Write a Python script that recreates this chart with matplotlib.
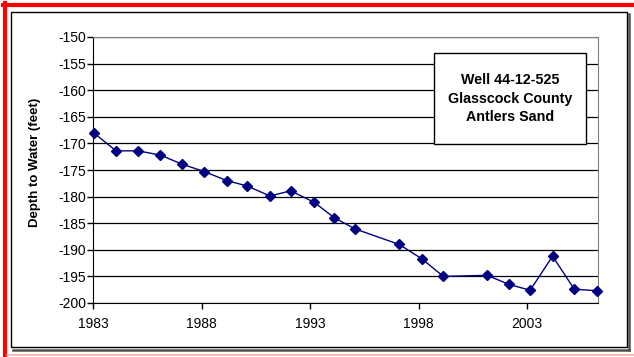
import matplotlib.pyplot as plt
from matplotlib.patches import Rectangle
from matplotlib.lines import Line2D

plt.rcParams['font.family'] = ['Liberation Sans', 'DejaVu Sans']
plt.rcParams['axes.unicode_minus'] = False

# measurement dates (decimal years) and depth to water (ft)
years = [1983.06, 1984.06, 1985.09, 1986.10, 1987.10, 1988.13, 1989.17,
         1990.10, 1991.16, 1992.10, 1993.20, 1994.12, 1995.09, 1997.11,
         1998.15, 1999.14, 2001.16, 2002.16, 2003.14, 2004.17, 2005.17,
         2006.23]
depth = [-168.1, -171.4, -171.4, -172.2, -173.9, -175.3, -177.0,
         -178.0, -179.9, -178.9, -181.1, -184.0, -186.1, -189.0,
         -191.7, -195.0, -194.8, -196.5, -197.6, -191.2, -197.4,
         -197.7]
xticks = [1983, 1988, 1993, 1998, 2003]
yticks = list(range(-200, -149, 5))
title_lines = ['Well 44-12-525', 'Glasscock County', 'Antlers Sand']

W, H = 634, 357
fig = plt.figure(figsize=(W / 100, H / 100), dpi=100)

def px(x, y):
    return x / W, 1 - y / H

# outer frame
fig.add_artist(Line2D([3 / W, 1], [1 - 5 / H] * 2, color='#ff0000', lw=3.0))
fig.add_artist(Line2D([5 / W] * 2, [1 - 3 / H, 1 - 355 / H], color='#ff0000', lw=3.0))
fig.add_artist(Line2D([7 / W, 1], [1 - 355 / H] * 2, color='#ffaaaa', lw=1.2))

# chart frame with shadow
fig.add_artist(Line2D([13 / W, 629 / W], [1 - 349.5 / H] * 2, color='#505050', lw=1.8))
fig.add_artist(Line2D([628.5 / W] * 2, [1 - 14 / H, 1 - 350 / H], color='#505050', lw=1.8))
fig.add_artist(Rectangle(px(11, 347), 616 / W, 335 / H, transform=fig.transFigure,
                         fill=False, edgecolor='black', lw=1.0))

ax = fig.add_axes([93 / W, 1 - 303 / H, (597.7 - 93) / W, (303 - 37) / H])
ax.plot(years, depth, color='#000080', lw=1.0, marker='D', markersize=5.5,
        markerfacecolor='#000080', markeredgecolor='#000080', zorder=3, clip_on=False)

ax.set_xlim(1983, 2006.25)
ax.set_ylim(-200, -150)
ax.set_xticks(xticks)
ax.set_yticks(yticks)
ax.grid(axis='y', color='black', lw=0.9)
ax.set_axisbelow(True)

for s in ['top', 'right']:
    ax.spines[s].set_color('#808080')
for s in ['left', 'bottom']:
    ax.spines[s].set_color('black')
ax.tick_params(axis='both', direction='out', length=4, width=1, labelsize=10, colors='black')
ax.tick_params(axis='y', pad=1)
ax.tick_params(axis='x', pad=6)

ax.set_ylabel('Depth to Water (feet)', fontsize=9.5, fontweight='bold')
ax.yaxis.set_label_coords(-0.103, 0.528)

# label box
bx0, bx1 = (434.3 - 93) / 504.7, (585.7 - 93) / 504.7
by0, by1 = 1 - (144.3 - 37) / 266, 1 - (53.3 - 37) / 266
ax.add_patch(Rectangle((bx0, by0), bx1 - bx0, by1 - by0, transform=ax.transAxes,
                       facecolor='white', edgecolor='black', lw=1.0, zorder=4))
ax.text((bx0 + bx1) / 2, (by0 + by1) / 2, '\n'.join(title_lines), transform=ax.transAxes,
        ha='center', va='center', fontsize=10.3, fontweight='bold', linespacing=1.4, zorder=5)

fig.savefig('out.png', dpi=100)
